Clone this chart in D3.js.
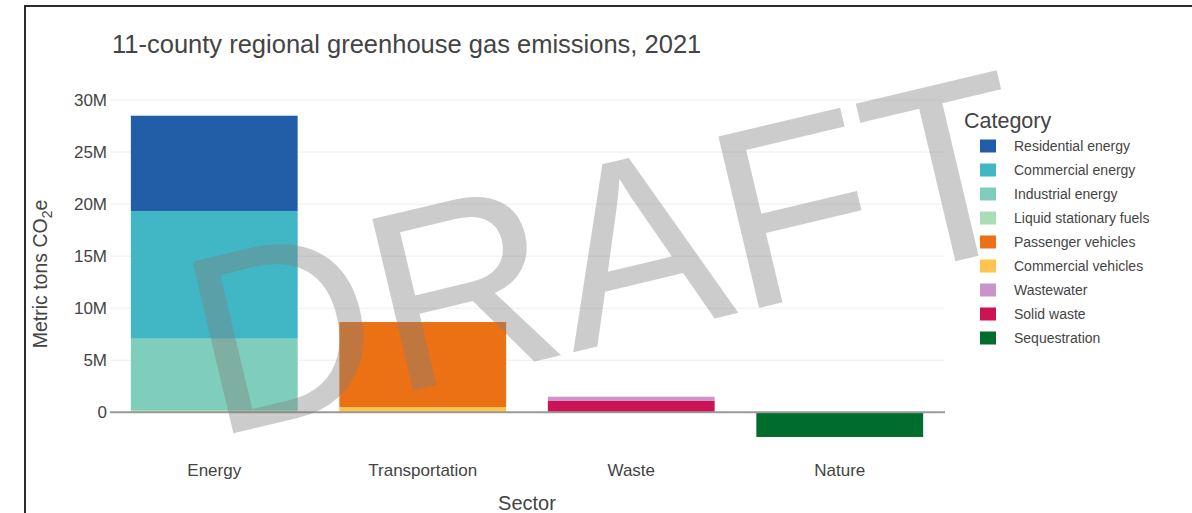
<!DOCTYPE html>
<html>
<head>
<meta charset="utf-8">
<script src="https://cdn.jsdelivr.net/npm/d3@7"></script>
<style>
  html, body { margin: 0; padding: 0; background: #fff; }
  svg { display: block; font-family: "Liberation Sans", Arial, sans-serif; }
</style>
</head>
<body>
<svg id="chart" width="1192" height="513"></svg>
<script>
// ---- Data (millions of metric tons CO2e) ----
const sectors = ["Energy", "Transportation", "Waste", "Nature"];
const categories = ["Residential energy", "Commercial energy", "Industrial energy",
  "Liquid stationary fuels", "Passenger vehicles", "Commercial vehicles",
  "Wastewater", "Solid waste", "Sequestration"];
const categoryColors = ["#225EA8", "#41B6C4", "#7FCDBB", "#A8DDB5", "#EC7014",
  "#FEC44F", "#C994C7", "#CE1256", "#006D2C"];
// values per sector: Energy, Transportation, Waste, Nature
const residentialEnergy     = [9.15, 0, 0, 0];
const commercialEnergy      = [12.27, 0, 0, 0];
const industrialEnergy      = [6.85, 0, 0, 0];
const liquidStationaryFuels = [0.22, 0, 0, 0];
const passengerVehicles     = [0, 8.16, 0, 0];
const commercialVehicles    = [0, 0.51, 0, 0];
const wastewater            = [0, 0, 0.41, 0];
const solidWaste            = [0, 0, 1.09, 0];
const sequestration         = [0, 0, 0, -2.37];
const seriesValues = [residentialEnergy, commercialEnergy, industrialEnergy,
  liquidStationaryFuels, passengerVehicles, commercialVehicles,
  wastewater, solidWaste, sequestration];
const yTickValues = [0, 5, 10, 15, 20, 25, 30];
const yTickLabels = ["0", "5M", "10M", "15M", "20M", "25M", "30M"];
const titleText = "11-county regional greenhouse gas emissions, 2021";

// ---- Build table ----
const table = sectors.map((s, i) => {
  const row = { sector: s };
  categories.forEach((c, k) => { row[c] = seriesValues[k][i]; });
  return row;
});
const stackKeys = categories.slice().reverse(); // stacked bottom-up in reverse legend order

const svg = d3.select("#chart");
const W = 1192, H = 513;
svg.append("rect").attr("width", W).attr("height", H).attr("fill", "#fff");

const plot = { left: 110, right: 944 };
const x = d3.scaleBand().domain(sectors).range([plot.left, plot.right])
  .paddingInner(0.2).paddingOuter(0.1);
const y = d3.scaleLinear().domain([0, 30]).range([412.3, 100]);
const color = d3.scaleOrdinal().domain(categories).range(categoryColors);

// gridlines
svg.append("g").selectAll("line").data(yTickValues.filter(d => d !== 0)).join("line")
  .attr("x1", plot.left).attr("x2", plot.right)
  .attr("y1", d => y(d)).attr("y2", d => y(d))
  .attr("stroke", "#eeeeee").attr("stroke-width", 1);

// y axis labels
const yAxis = d3.axisLeft(y).tickValues(yTickValues)
  .tickFormat((d, i) => yTickLabels[i]).tickSize(0).tickPadding(3);
const gy = svg.append("g").attr("transform", `translate(${plot.left},0)`).call(yAxis);
gy.select(".domain").remove();
gy.selectAll("text").attr("font-size", 17).attr("fill", "#444")
  .attr("font-family", '"Liberation Sans", Arial, sans-serif');

// bars
const stacked = d3.stack().keys(stackKeys).offset(d3.stackOffsetDiverging)(table);
svg.append("g").selectAll("g").data(stacked).join("g")
  .attr("fill", d => color(d.key))
  .selectAll("rect").data(d => d.filter(p => p[1] !== p[0])).join("rect")
  .attr("x", d => x(d.data.sector))
  .attr("width", x.bandwidth())
  .attr("y", d => y(Math.max(d[0], d[1])))
  .attr("height", d => Math.abs(y(d[0]) - y(d[1])));

// zero line
svg.append("line").attr("x1", plot.left).attr("x2", plot.right + 1)
  .attr("y1", y(0)).attr("y2", y(0))
  .attr("stroke", "#9a9a9a").attr("stroke-width", 2);

// x axis labels
const xAxis = d3.axisBottom(x).tickSize(0).tickPadding(0);
const gx = svg.append("g").attr("transform", "translate(0,462)").call(xAxis);
gx.select(".domain").remove();
gx.selectAll("text").attr("font-size", 17).attr("fill", "#444").attr("dy", "0.8em")
  .attr("font-family", '"Liberation Sans", Arial, sans-serif');

// title
svg.append("text").attr("x", 112).attr("y", 53).attr("font-size", 25.5)
  .attr("fill", "#444").text(titleText);

// axis titles
svg.append("text").attr("x", (plot.left + plot.right) / 2).attr("y", 510)
  .attr("text-anchor", "middle").attr("font-size", 20).attr("fill", "#444").text("Sector");

const yt = svg.append("text")
  .attr("transform", "translate(47,274) rotate(-90)")
  .attr("text-anchor", "middle").attr("font-size", 19.5).attr("fill", "#444");
yt.append("tspan").text("Metric tons CO");
yt.append("tspan").attr("font-size", 14).attr("dy", 5).text("2");
yt.append("tspan").attr("dy", -5).text("e");

// legend
const lg = svg.append("g");
lg.append("text").attr("x", 964).attr("y", 128).attr("font-size", 21.5)
  .attr("fill", "#444").text("Category");
const items = lg.selectAll("g.item").data(categories).join("g")
  .attr("class", "item")
  .attr("transform", (d, i) => `translate(0,${146 + 24 * i})`);
items.append("rect").attr("x", 980).attr("y", -6.5).attr("width", 16).attr("height", 13)
  .attr("fill", d => color(d));
items.append("text").attr("x", 1014).attr("y", 5).attr("font-size", 14)
  .attr("fill", "#444").text(d => d);

// watermark
svg.append("text")
  .attr("transform", "translate(213,438) rotate(-13.4)")
  .attr("font-size", 256)
  .attr("font-family", '"Liberation Sans", Arial, sans-serif')
  .attr("fill", "#808080").attr("fill-opacity", 0.4)
  .text("DRAFT");

// frame
svg.append("rect").attr("x", 25).attr("y", 6).attr("width", 1300).attr("height", 700)
  .attr("fill", "none").attr("stroke", "#2b2b2b").attr("stroke-width", 2);
</script>
</body>
</html>
